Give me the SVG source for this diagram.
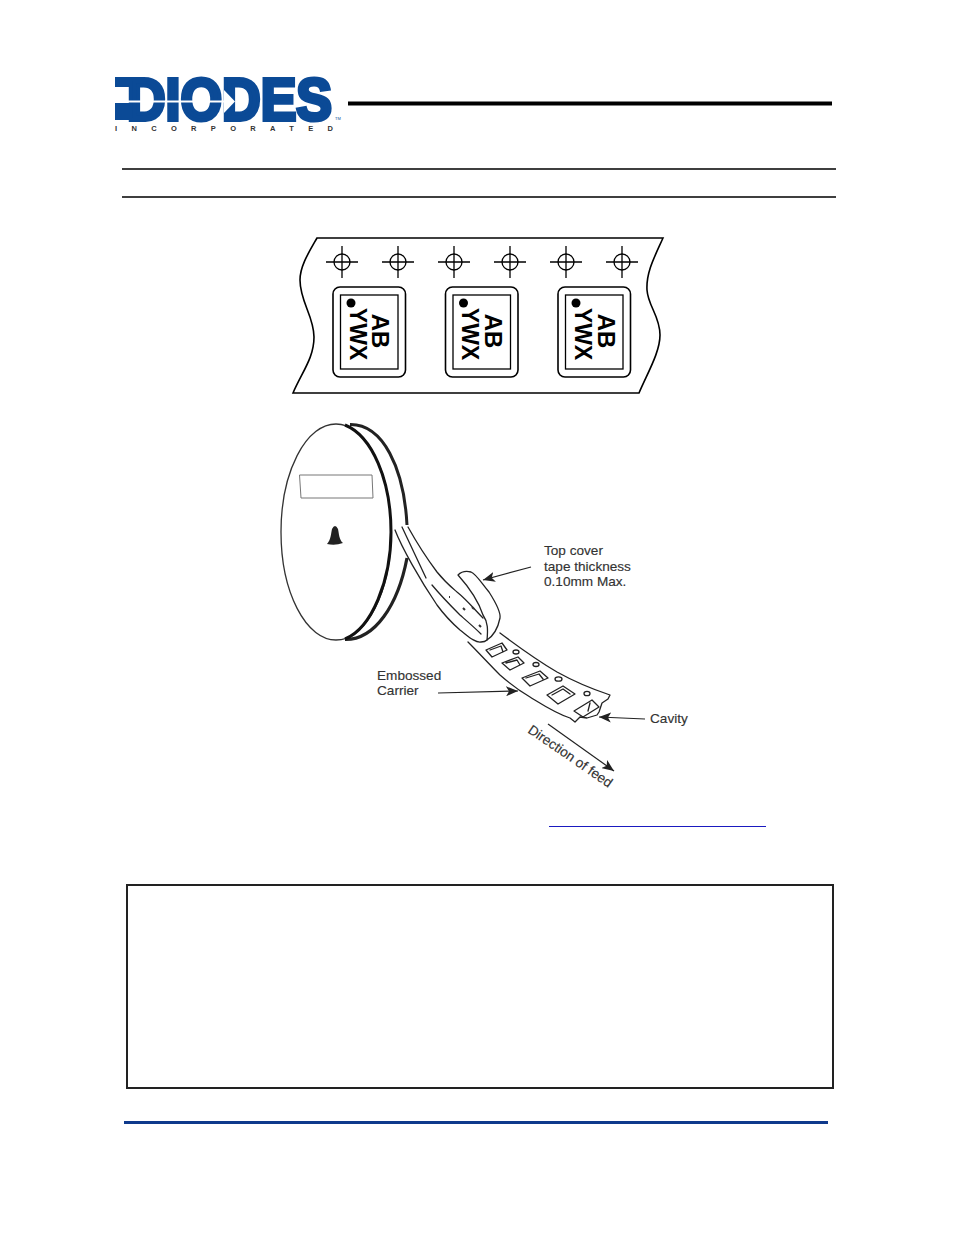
<svg xmlns="http://www.w3.org/2000/svg" width="954" height="1235" viewBox="0 0 954 1235">
<style>
.l{fill:none;stroke:#000}
.r{fill:none;stroke:#222;stroke-width:1.3;stroke-linejoin:round;stroke-linecap:round}
.t{font:13.6px "Liberation Sans",Arial,sans-serif;fill:#333;stroke:#333;stroke-width:.15}
.m{font:bold 23px "Liberation Sans",Arial,sans-serif;fill:#000;text-anchor:middle}
.n{font:bold 24px "Liberation Sans",Arial,sans-serif;fill:#000;text-anchor:middle}
</style>
<defs>
<marker id="a" markerWidth="12" markerHeight="10" refX="12" refY="5" orient="auto" markerUnits="userSpaceOnUse" viewBox="0 0 12 10"><path d="M0 0L12 5L0 10L3 5Z" fill="#222"/></marker>
<g id="hole"><circle r="8" class="l" stroke-width="1.300"/><path d="M-16 0H16M0-16V16" class="l" stroke-width="1.300"/></g>
<g id="pkg"><rect x="0" y="0" width="72.500" height="90" rx="7" class="l" stroke-width="1.600"/><rect x="7.500" y="8" width="57.500" height="74" class="l" stroke-width="1.300"/><circle cx="18" cy="16" r="4.500"/><text class="m" transform="translate(16.500,47) rotate(90)">YWX</text></g>
</defs>
<rect width="954" height="1235" fill="#fff"/>
<g id="logo">
<text x="127" y="120" font-family="Liberation Sans,Arial,sans-serif" font-weight="700" font-size="59" fill="#0b4a96" stroke="#0b4a96" stroke-width="4" textLength="205" lengthAdjust="spacingAndGlyphs">DIODES</text>
<path d="M115 77H132V87H115ZM115 103H132V120H115Z" fill="#0b4a96"/>
<path d="M115 101.500H224" stroke="#fff" stroke-width="2" fill="none"/>
<path d="M224 90L235 101.500L224 113Z" fill="#fff"/>
<text x="115" y="131" font-family="Liberation Sans,Arial,sans-serif" font-weight="700" font-size="7.500" fill="#333" textLength="218">INCORPORATED</text>
<text x="335" y="120" font-family="Liberation Sans,Arial,sans-serif" font-size="4" fill="#0b4a96">TM</text>
</g>
<g id="rules">
<path d="M348 103.500H832" stroke="#000" stroke-width="4"/>
<path d="M122 169H836M122 197H836" stroke="#000" stroke-width="1.600"/>
<path d="M549 826.500H766" stroke="#1a1ac0" stroke-width="1"/>
<rect x="127" y="885" width="706" height="203" fill="none" stroke="#222" stroke-width="2"/>
<path d="M124 1122.500H828" stroke="#0f3a8c" stroke-width="3"/>
</g>
<g id="tape">
<path d="M317 238H663C655 256 646 272 647 290C648 306 660 316 660 335C660 352 648 372 639 393H293C302 372 314 358 314 337C314 316 300 302 300 280C300 266 309 252 317 238Z" class="l" stroke-width="1.600" fill="#fff"/>
<use href="#hole" x="342" y="262"/><use href="#hole" x="398" y="262"/><use href="#hole" x="454" y="262"/><use href="#hole" x="510" y="262"/><use href="#hole" x="566" y="262"/><use href="#hole" x="622" y="262"/>
<use href="#pkg" x="333" y="287"/><use href="#pkg" x="445.500" y="287"/><use href="#pkg" x="558" y="287"/>
<text class="n" transform="translate(371.500,331) rotate(90)">AB</text>
<text class="n" transform="translate(484.500,331) rotate(90)">AB</text>
<text class="n" transform="translate(597.500,331) rotate(90)">AB</text>
</g>
<g id="reel">
<ellipse cx="336" cy="532" rx="55" ry="108" fill="#fff" stroke="#333" stroke-width="1.300"/>
<path d="M350 424.500C383 424 404 468 407 525" fill="none" stroke="#222" stroke-width="3"/>
<path d="M407 558C398 605 375 640 345 639.500" fill="none" stroke="#222" stroke-width="3.200"/>
<path d="M345 425C372 436 391 480 391 532C391 580 372 628 345 639" fill="none" stroke="#111" stroke-width="3"/>
<path d="M299.500 475H372L373 498H301Z" fill="none" stroke="#777" stroke-width="1"/>
<path d="M327 544C331 540 331 533 332 529Q335 523 338 529C339 533 339 540 343 543Q335 546 327 544Z" fill="#222"/>
</g>
<g id="carrier">
<path d="M408 527C418 545 428 560 437 572C445 582 450 586 457 592C467 600 475 610 483 618L487 640L481 642C475 643 468 636 460 630C452 623 445 616 437 605C420 580 402 548 395 530Z" fill="#fff"/>
<path d="M408 527C418 545 428 560 437 572C445 582 450 586 457 592C467 600 475 610 483 618" class="r"/>
<path d="M395 530C402 548 420 580 437 605C445 616 452 623 460 630C468 636 475 643 481 642Q485 642 487 640" class="r"/>
<path d="M402 527L426 578M432 585C442 597 450 605 460 615C468 622 475 628 481 634" class="r"/>
<path d="M458 575Q463 570 471 572C476 574 480 581 489 592C496 603 501 612 500 618C498 628 493 636 487 640C488 630 488 622 483 615C478 600 467 585 458 575Z" class="r" fill="#fff"/>
<path d="M449 597h1M463 608l2 2M472 607l2 2M479 625l2 2" stroke="#333" stroke-width="2" fill="none"/>
<path d="M500 633C520 648 540 662 557 672C575 682 592 689 610 695L608 699L602 703L599 712L597 715L587 718L580 717L575 722L570 718C555 713 543 705 530 697C518 690 508 682 500 675C490 665 478 652 468 642" class="r"/>
<g class="r" stroke-width="1.200">
<path d="M486 650L502 643L507 650L492 657Z M490 650L501 646L503 652"/>
<path d="M502 663L518 657L524 663L510 670Z M506 663L517 660L520 665"/>
<path d="M522 678L540 671L548 678L530 686Z M526 678L539 674L543 679"/>
<path d="M547 695L563 686L575 694L558 704Z M552 695L563 689L570 694"/>
<ellipse cx="516" cy="652" rx="3" ry="2"/>
<ellipse cx="536" cy="664.500" rx="3" ry="2"/>
<ellipse cx="558.500" cy="679" rx="3.500" ry="2.200"/>
<ellipse cx="587" cy="693.500" rx="3" ry="2.200"/>
<path d="M574 711L592 700L599 707L583 717ZM590 703L588 711"/>
</g>
</g>
<g id="connectors" fill="none" stroke="#222" stroke-width="1.200">
<path d="M531 567L483 580" marker-end="url(#a)"/>
<path d="M438 693L518 691" marker-end="url(#a)"/>
<path d="M645 719L599 717" marker-end="url(#a)"/>
<path d="M548 724L614 771" marker-end="url(#a)"/>
</g>
<g id="labels">
<text class="t" x="544" y="555">Top cover</text>
<text class="t" x="544" y="571">tape thickness</text>
<text class="t" x="544" y="586">0.10mm Max.</text>
<text class="t" x="377" y="680">Embossed</text>
<text class="t" x="377" y="695">Carrier</text>
<text class="t" x="650" y="723">Cavity</text>
<text class="t" transform="translate(527,732) rotate(34.500)">Direction of feed</text>
</g>
</svg>
